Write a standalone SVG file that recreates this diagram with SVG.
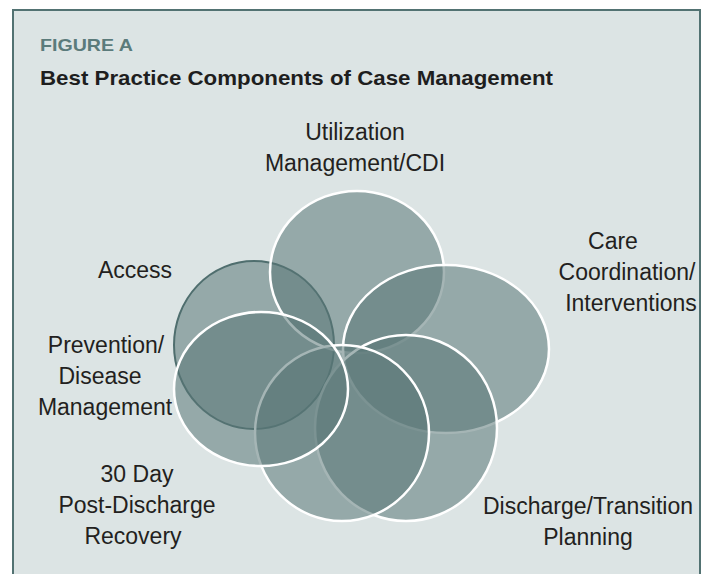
<svg xmlns="http://www.w3.org/2000/svg" width="704" height="574" viewBox="0 0 704 574">
  <style>
    .panel { fill: #dce4e4; stroke: #527272; stroke-width: 2; }
    .fig { font-family: "Liberation Sans", Arial, sans-serif; font-weight: bold; font-size: 17px; fill: #5b7b7b; }
    .title { font-family: "Liberation Sans", Arial, sans-serif; font-weight: bold; font-size: 21px; fill: #1e1e1e; }
    .lbl { font-family: "Liberation Sans", Arial, sans-serif; font-size: 23px; fill: #231f20; text-anchor: middle; }
    .ring { fill: #587676; fill-opacity: 0.54; stroke: #ffffff; stroke-width: 2.5; }
    .ring-dark { fill: #587676; fill-opacity: 0.54; stroke: #4f6e6e; stroke-width: 2; }
  </style>

  <rect width="704" height="574" fill="#ffffff"/>
  <rect class="panel" x="13" y="10" width="687" height="580"/>

  <text class="fig" x="40" y="51" textLength="93" lengthAdjust="spacingAndGlyphs">FIGURE A</text>
  <text class="title" x="40" y="85" textLength="513" lengthAdjust="spacingAndGlyphs">Best Practice Components of Case Management</text>

  <!-- components, drawn bottom to top so the petals interleave -->
  <g id="access">
    <ellipse class="ring-dark" cx="254" cy="345" rx="80" ry="84"/>
    <text class="lbl" x="135" y="278">Access</text>
  </g>

  <g id="utilization">
    <ellipse class="ring" cx="357" cy="272" rx="87" ry="81"/>
    <text class="lbl" x="355" y="140">Utilization</text>
    <text class="lbl" x="355" y="171">Management/CDI</text>
  </g>

  <g id="care-coordination">
    <ellipse class="ring" cx="446" cy="349" rx="103" ry="84"/>
    <text class="lbl" x="613" y="249">Care</text>
    <text class="lbl" x="627" y="280">Coordination/</text>
    <text class="lbl" x="631" y="311">Interventions</text>
  </g>

  <g id="discharge-planning">
    <ellipse class="ring" cx="406" cy="428" rx="91" ry="93"/>
    <text class="lbl" x="588" y="514">Discharge/Transition</text>
    <text class="lbl" x="588" y="545">Planning</text>
  </g>

  <g id="post-discharge">
    <ellipse class="ring" cx="342" cy="433" rx="87" ry="88"/>
    <text class="lbl" x="137" y="482">30 Day</text>
    <text class="lbl" x="137" y="513">Post-Discharge</text>
    <text class="lbl" x="133" y="544">Recovery</text>
  </g>

  <g id="prevention">
    <ellipse class="ring" cx="261" cy="389" rx="87" ry="77"/>
    <text class="lbl" x="106" y="353">Prevention/</text>
    <text class="lbl" x="100" y="384">Disease</text>
    <text class="lbl" x="105" y="415">Management</text>
  </g>
</svg>
